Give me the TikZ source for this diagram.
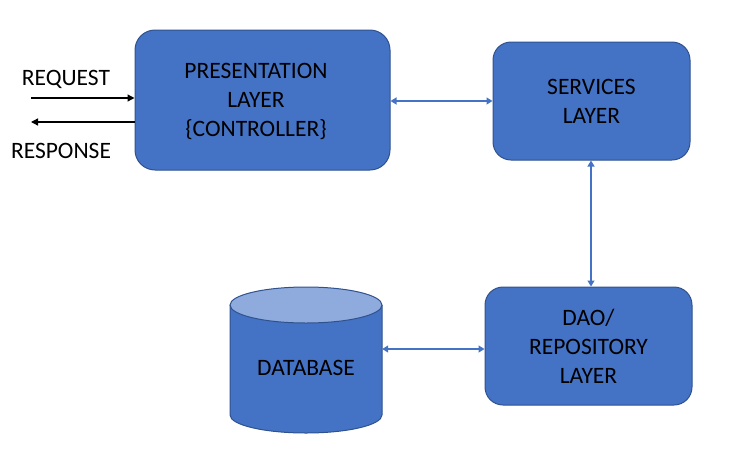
\documentclass[tikz,border=0pt]{standalone}
\usepackage{fontspec}
\setmainfont{Carlito}
\usetikzlibrary{arrows.meta}
\definecolor{boxfill}{HTML}{4472C4}
\definecolor{boxline}{HTML}{2F528F}
\definecolor{topfill}{HTML}{8FAADC}
\begin{document}
\begin{tikzpicture}[x=1pt,y=-1pt,
  layerbox/.style={draw=boxline, line width=1pt, fill=boxfill, rounded corners=20pt, align=center,
    font=\fontsize{23.5}{29}\selectfont, text=black, inner sep=0pt},
  blink/.style={draw=boxfill, line width=1.2pt, {Triangle[width=7pt,length=6pt]}-{Triangle[width=7pt,length=6pt]}},
  karrow/.style={draw=black, line width=1.3pt, -{Triangle[width=7pt,length=7pt]}},
  lbl/.style={font=\fontsize{23.5}{29}\selectfont, inner sep=0pt, align=center}]
\useasboundingbox (0,0) rectangle (730,458);
\node[layerbox, minimum width=255pt, minimum height=140pt] (pres) at (262.5,100) {};
\node[lbl] (presl) at (256,101) {PRESENTATION\\LAYER\\\{CONTROLLER\}};
\node[layerbox, rounded corners=18pt, minimum width=197pt, minimum height=118pt] (serv) at (591.5,101) {SERVICES\\LAYER};
\node[layerbox, rounded corners=18pt, minimum width=207pt, minimum height=118pt] (dao) at (588.5,346) {DAO/\\REPOSITORY\\LAYER};
% database cylinder
\fill[boxfill] (230,305) -- (230,415) arc[start angle=180,end angle=360,x radius=76pt,y radius=18pt] -- (382,305) -- cycle;
\draw[boxline, line width=1pt] (230,305) -- (230,415) arc[start angle=180,end angle=360,x radius=76pt,y radius=18pt] -- (382,305);
\draw[boxline, line width=1pt, fill=topfill] (306,305) ellipse[x radius=76pt, y radius=18pt];
\node[inner sep=0pt, minimum width=152pt, minimum height=110pt] (db) at (306,360) {};
\node[lbl] (dbl) at (306,368) {DATABASE};
% connectors
\draw[blink] (pres.east |- 0,101) -- (serv.west |- 0,101);
\draw[blink] (serv.south -| 591,0) -- (dao.north -| 591,0);
\draw[blink] (db.east |- 0,349) -- (dao.west |- 0,349);
% request / response
\coordinate (reqs) at (31,98);
\coordinate (rese) at (31,122);
\draw[karrow] (reqs) -- (pres.west |- reqs);
\draw[karrow] (pres.west |- rese) -- (rese);
\node[lbl] (req) at (66,79) {REQUEST};
\node[lbl] (res) at (61,151) {RESPONSE};
\end{tikzpicture}
\end{document}
